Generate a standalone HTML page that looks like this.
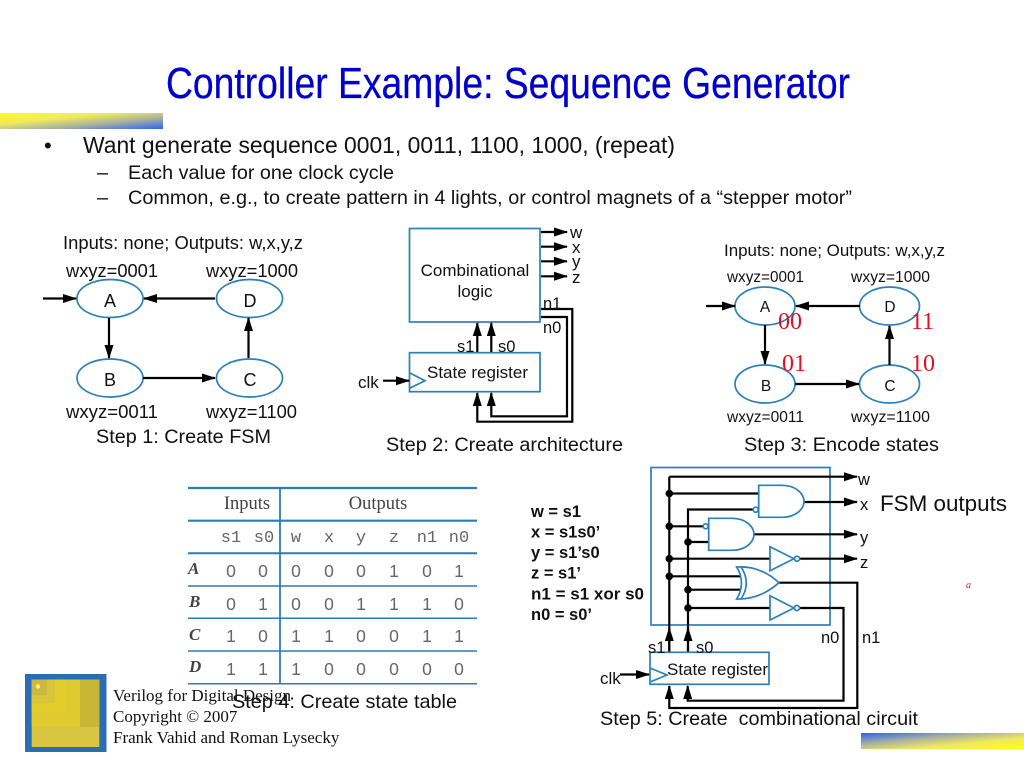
<!DOCTYPE html>
<html>
<head>
<meta charset="utf-8">
<title>Controller Example: Sequence Generator</title>
<style>
html,body{margin:0;padding:0;background:#fff;width:1024px;height:768px;overflow:hidden}
svg{display:block}
text{font-family:"Liberation Sans",sans-serif;fill:#111}
.s{font-family:"Liberation Serif",serif}
.c{text-anchor:middle}
.b{fill:none;stroke:#2a80b9;stroke-width:1.7}
.g{fill:#fff;stroke:#2a80b9;stroke-width:1.7}
.w{fill:none;stroke:#000;stroke-width:2.2}
.a{fill:none;stroke:#000;stroke-width:2.2;marker-end:url(#ar)}
.t{font-size:17.500px;fill:#666;text-anchor:middle}
.m{font-family:"Liberation Mono",monospace;font-size:17px;fill:#666;text-anchor:middle}
.l{font-family:"Liberation Serif",serif;font-style:italic;font-weight:bold;font-size:17px;fill:#444}
.r{font-family:"Liberation Serif",serif;font-size:24px;fill:#e01020}
.e{font-size:16.500px;font-weight:bold}
</style>
</head>
<body>
<svg width="1024" height="768" viewBox="0 0 1024 768" xmlns="http://www.w3.org/2000/svg">
<defs>
<marker id="ar" markerUnits="userSpaceOnUse" markerWidth="14" markerHeight="10" viewBox="0 0 14 10" refX="13" refY="5" orient="auto"><path d="M0 .5L14 5L0 9.500z" fill="#000"/></marker>
<linearGradient id="g1" x1="0" y1="0" x2="1" y2="1"><stop offset="0" stop-color="#ffff10"/><stop offset=".35" stop-color="#f0e860"/><stop offset=".65" stop-color="#a8b0a0"/><stop offset="1" stop-color="#2a62f0"/></linearGradient>
<linearGradient id="g2" x1="0" y1="0" x2="1" y2="1"><stop offset="0" stop-color="#2a62f0"/><stop offset=".35" stop-color="#a8b0a0"/><stop offset=".65" stop-color="#f0e860"/><stop offset="1" stop-color="#ffff10"/></linearGradient>
</defs>

<rect x="0" y="113" width="163" height="16" fill="url(#g1)"/>
<rect x="861" y="733" width="163" height="16" fill="url(#g2)"/>

<text x="166" y="98" font-size="44" textLength="684" lengthAdjust="spacingAndGlyphs" style="fill:#0000cc;stroke:#0000cc;stroke-width:.3">Controller Example: Sequence Generator</text>

<text x="44" y="153" font-size="22">•</text>
<text x="83" y="153" font-size="22.700" textLength="592" lengthAdjust="spacingAndGlyphs">Want generate sequence 0001, 0011, 1100, 1000, (repeat)</text>
<text x="97" y="179" font-size="20">–</text>
<text x="128" y="179" font-size="19.800" textLength="266" lengthAdjust="spacingAndGlyphs">Each value for one clock cycle</text>
<text x="97" y="204" font-size="20">–</text>
<text x="128" y="204" font-size="19.800" textLength="724" lengthAdjust="spacingAndGlyphs">Common, e.g., to create pattern in 4 lights, or control magnets of a “stepper motor”</text>

<!-- FSM 1 -->
<text x="63" y="249" font-size="18" textLength="240" lengthAdjust="spacingAndGlyphs">Inputs: none; Outputs: w,x,y,z</text>
<text x="66" y="277" font-size="18" textLength="92" lengthAdjust="spacingAndGlyphs">wxyz=0001</text>
<text x="206" y="277" font-size="18" textLength="92" lengthAdjust="spacingAndGlyphs">wxyz=1000</text>
<text x="66" y="418" font-size="18" textLength="92" lengthAdjust="spacingAndGlyphs">wxyz=0011</text>
<text x="206" y="418" font-size="18" textLength="91" lengthAdjust="spacingAndGlyphs">wxyz=1100</text>
<text x="96" y="443" font-size="19.800" textLength="175" lengthAdjust="spacingAndGlyphs">Step 1: Create FSM</text>
<ellipse class="b" cx="110" cy="298.500" rx="33" ry="19"/>
<ellipse class="b" cx="249.500" cy="298.500" rx="33" ry="19"/>
<ellipse class="b" cx="110" cy="378" rx="33" ry="19"/>
<ellipse class="b" cx="249.500" cy="378" rx="33" ry="19"/>
<text class="c" x="110" y="307" font-size="18">A</text>
<text class="c" x="250" y="307" font-size="18">D</text>
<text class="c" x="110" y="386" font-size="18">B</text>
<text class="c" x="250" y="386" font-size="18">C</text>
<path class="a" d="M43 298.500H76"/>
<path class="a" d="M215 298.500H144"/>
<path class="a" d="M109 318V358"/>
<path class="a" d="M143 378H215"/>
<path class="a" d="M248.500 358V318"/>

<!-- Architecture -->
<rect class="b" x="409.500" y="228.500" width="130.500" height="93.500"/>
<rect class="b" x="409.500" y="352.700" width="130.500" height="39"/>
<path class="b" d="M409.500 372.700L425 380.700L409.500 388.300"/>
<text class="c" x="475" y="276" font-size="17">Combinational</text>
<text class="c" x="475" y="297" font-size="17">logic</text>
<text x="427" y="378" font-size="17" textLength="101" lengthAdjust="spacingAndGlyphs">State register</text>
<path class="a" d="M541 232H567"/>
<path class="a" d="M541 246.700H567"/>
<path class="a" d="M541 261.300H567"/>
<path class="a" d="M541 276.300H567"/>
<path class="a" d="M541 309H572.300V421.700H477.300V393"/>
<path class="a" d="M541 317H567V416.300H491.300V393"/>
<path class="a" d="M477.300 352V323"/>
<path class="a" d="M491.300 352V323"/>
<path class="a" d="M383 380.700H409"/>
<text x="570" y="238" font-size="17">w</text>
<text x="572" y="253" font-size="17">x</text>
<text x="572" y="267" font-size="17">y</text>
<text x="572" y="283" font-size="17">z</text>
<text x="543" y="309" font-size="16.500">n1</text>
<text x="543" y="333" font-size="16.500">n0</text>
<text x="457" y="352" font-size="16.500">s1</text>
<text x="498" y="352" font-size="16.500">s0</text>
<text x="358" y="388" font-size="17">clk</text>
<text x="386" y="451" font-size="19.800" textLength="237" lengthAdjust="spacingAndGlyphs">Step 2: Create architecture</text>

<!-- FSM 3 -->
<text x="724" y="256" font-size="16.800" textLength="221" lengthAdjust="spacingAndGlyphs">Inputs: none; Outputs: w,x,y,z</text>
<text x="727" y="282" font-size="15.500" textLength="77" lengthAdjust="spacingAndGlyphs">wxyz=0001</text>
<text x="851" y="282" font-size="15.500" textLength="79" lengthAdjust="spacingAndGlyphs">wxyz=1000</text>
<text x="727" y="422" font-size="15.500" textLength="77" lengthAdjust="spacingAndGlyphs">wxyz=0011</text>
<text x="851" y="422" font-size="15.500" textLength="79" lengthAdjust="spacingAndGlyphs">wxyz=1100</text>
<ellipse class="b" cx="765" cy="306" rx="30" ry="19"/>
<ellipse class="b" cx="889.500" cy="306" rx="30" ry="19"/>
<ellipse class="b" cx="765" cy="384" rx="30" ry="19"/>
<ellipse class="b" cx="889.500" cy="384" rx="30" ry="19"/>
<text class="c" x="765" y="312" font-size="15.500">A</text>
<text class="c" x="890" y="312" font-size="15.500">D</text>
<text class="c" x="766" y="391" font-size="15.500">B</text>
<text class="c" x="890" y="391" font-size="15.500">C</text>
<path class="a" d="M706 306H735"/>
<path class="a" d="M860 306H796"/>
<path class="a" d="M765 325V364"/>
<path class="a" d="M795 384H859"/>
<path class="a" d="M889.500 365V326"/>
<text class="r" x="778" y="329">00</text>
<text class="r" x="911" y="329">11</text>
<text class="r" x="782" y="371">01</text>
<text class="r" x="911" y="371">10</text>
<text x="744" y="451" font-size="19.800" textLength="195" lengthAdjust="spacingAndGlyphs">Step 3: Encode states</text>

<!-- State table -->
<g stroke="#2a7db5" fill="none">
<path d="M188 488H477M188 520.700H477" stroke-width="2.200"/>
<path d="M188 553.300H477" stroke-width="2"/>
<path d="M188 586H477M188 618.300H477M188 651H477M188 683.700H477" stroke-width="1.500"/>
<path d="M280 488V684" stroke-width="1.800"/>
</g>
<text class="s c" x="247" y="509" font-size="18.500" style="fill:#444">Inputs</text>
<text class="s c" x="378" y="509" font-size="18.500" style="fill:#444">Outputs</text>
<text class="m" x="231" y="542">s1</text><text class="m" x="264" y="542">s0</text>
<text class="m" x="296" y="542">w</text><text class="m" x="329" y="542">x</text><text class="m" x="361" y="542">y</text><text class="m" x="394" y="542">z</text><text class="m" x="427" y="542">n1</text><text class="m" x="459" y="542">n0</text>
<text class="l" x="188" y="574">A</text><text class="l" x="189" y="607">B</text><text class="l" x="189" y="640">C</text><text class="l" x="189" y="672">D</text>
<g>
<text class="t" x="231" y="577">0</text><text class="t" x="263" y="577">0</text><text class="t" x="296" y="577">0</text><text class="t" x="329" y="577">0</text><text class="t" x="361" y="577">0</text><text class="t" x="394" y="577">1</text><text class="t" x="427" y="577">0</text><text class="t" x="459" y="577">1</text>
<text class="t" x="231" y="610">0</text><text class="t" x="263" y="610">1</text><text class="t" x="296" y="610">0</text><text class="t" x="329" y="610">0</text><text class="t" x="361" y="610">1</text><text class="t" x="394" y="610">1</text><text class="t" x="427" y="610">1</text><text class="t" x="459" y="610">0</text>
<text class="t" x="231" y="642">1</text><text class="t" x="263" y="642">0</text><text class="t" x="296" y="642">1</text><text class="t" x="329" y="642">1</text><text class="t" x="361" y="642">0</text><text class="t" x="394" y="642">0</text><text class="t" x="427" y="642">1</text><text class="t" x="459" y="642">1</text>
<text class="t" x="231" y="675">1</text><text class="t" x="263" y="675">1</text><text class="t" x="296" y="675">1</text><text class="t" x="329" y="675">0</text><text class="t" x="361" y="675">0</text><text class="t" x="394" y="675">0</text><text class="t" x="427" y="675">0</text><text class="t" x="459" y="675">0</text>
</g>
<text x="232" y="708" font-size="19.800" textLength="225" lengthAdjust="spacingAndGlyphs">Step 4: Create state table</text>

<!-- Equations -->
<text class="e" x="531" y="517">w = s1</text>
<text class="e" x="531" y="537.500">x = s1s0’</text>
<text class="e" x="531" y="558">y = s1’s0</text>
<text class="e" x="531" y="578.500">z = s1’</text>
<text class="e" x="531" y="599.500" textLength="113" lengthAdjust="spacingAndGlyphs">n1 = s1 xor s0</text>
<text class="e" x="531" y="620">n0 = s0’</text>

<!-- Circuit -->
<rect class="b" x="651" y="467.500" width="179" height="157.500"/>
<path class="w" d="M669.300 652V476.700"/>
<path class="a" d="M669.300 476.700H857"/>
<path class="w" d="M688 652V509.500H756"/>
<path class="w" d="M669.300 493.500H759"/>
<path class="w" d="M669.300 526.300H705"/>
<path class="w" d="M688 542H709"/>
<path class="w" d="M669.300 558.700H770"/>
<path class="w" d="M669.300 576.300H742"/>
<path class="w" d="M688 589.700H742"/>
<path class="w" d="M688 608H770"/>
<path class="a" d="M804 502H857"/>
<path class="a" d="M754 534.300H857"/>
<path class="a" d="M799 558.700H857"/>
<path class="w" d="M779 582.700H857.300V708H669.300V686"/>
<path class="w" d="M799 608H843.500V700.700H687.700V686"/>
<polygon points="669.300,685 664.800,699 673.800,699" fill="#000"/>
<polygon points="687.700,685 683.200,699 692.200,699" fill="#000"/>
<path class="a" d="M669.300 652V628"/>
<path class="a" d="M688 652V628"/>
<g fill="#000">
<circle cx="669.300" cy="493.500" r="3.800"/><circle cx="669.300" cy="526.300" r="3.800"/><circle cx="669.300" cy="558.700" r="3.800"/><circle cx="669.300" cy="576.300" r="3.800"/>
<circle cx="688" cy="542" r="3.800"/><circle cx="688" cy="589.700" r="3.800"/><circle cx="688" cy="608" r="3.800"/>
</g>
<path class="g" d="M758.700 485.300H782C796 485.300 804 494 804 501.300C804 509 796 517.300 782 517.300H758.700z"/>
<circle class="g" cx="755.700" cy="509.700" r="2.500"/>
<path class="g" d="M708.700 518.300H732C746 518.300 754 527 754 534.300C754 542 746 550.300 732 550.300H708.700z"/>
<circle class="g" cx="705.700" cy="526.300" r="2.500"/>
<path class="g" d="M770 546.700L794 558.700L770 570.700z"/>
<circle class="g" cx="797" cy="558.700" r="2.500"/>
<path class="g" d="M736.700 567C750 566 765 570 779 582.700C765 595 750 599.500 736.700 599C743 589 743 577 736.700 567z"/>
<path class="b" d="M741 567C748 577 748 589 741 599"/>
<path class="g" d="M770 595.700L794 608L770 620z"/>
<circle class="g" cx="797" cy="608" r="2.500"/>

<rect class="b" x="650" y="652.300" width="119" height="32"/>
<path class="b" d="M650 668L667 675L650 682"/>
<path class="a" d="M620 674.500H649"/>
<text x="667" y="675" font-size="17" textLength="101" lengthAdjust="spacingAndGlyphs">State register</text>
<text x="600" y="684" font-size="17">clk</text>
<text x="648" y="653" font-size="16.500">s1</text>
<text x="696" y="653" font-size="16.500">s0</text>
<text x="821" y="643" font-size="16.500">n0</text>
<text x="862" y="643" font-size="16.500">n1</text>
<text x="858" y="485" font-size="16.500">w</text>
<text x="860" y="510" font-size="16.500">x</text>
<text x="860" y="543" font-size="16.500">y</text>
<text x="860" y="568" font-size="16.500">z</text>
<text x="880" y="511" font-size="22.400" textLength="127" lengthAdjust="spacingAndGlyphs">FSM outputs</text>
<text x="600" y="725" font-size="19.800" textLength="318" lengthAdjust="spacingAndGlyphs" xml:space="preserve">Step 5: Create  combinational circuit</text>
<text class="s" x="966" y="588" font-size="10" font-style="italic" style="fill:#d02040">a</text>

<!-- Logo -->
<rect x="25" y="674" width="81.500" height="78" fill="#2a6db5"/>
<rect x="31.700" y="679.500" width="67.600" height="67.500" fill="#d8c640"/>
<rect x="31.700" y="679.500" width="67.600" height="47.500" fill="#c8b636"/>
<rect x="31.700" y="679.500" width="48.300" height="47.500" fill="#dfca30"/>
<rect x="31.700" y="679.500" width="33.300" height="32.500" fill="#e2cd2a"/>
<rect x="31.700" y="679.500" width="23.300" height="23.500" fill="#d9c53a"/>
<rect x="31.700" y="679.500" width="15.300" height="15.500" fill="#ccb840"/>
<circle cx="38" cy="686.500" r="2.200" fill="#fff070"/>

<text class="s" x="113" y="701" font-size="17">Verilog for Digital Design</text>
<text class="s" x="113" y="722" font-size="17">Copyright © 2007</text>
<text class="s" x="113" y="743" font-size="17">Frank Vahid and Roman Lysecky</text>
</svg>
</body>
</html>
